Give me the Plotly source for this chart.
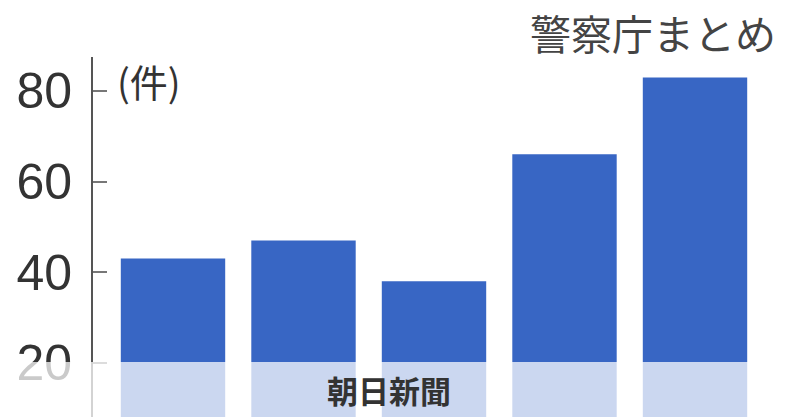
import plotly.graph_objects as go

categories = ["2019", "2020", "2021", "2022", "2023"]
values = [43, 47, 38, 66, 83]
tick_vals = [20, 40, 60, 80]
tick_text = ["20", "40", "60", "80"]
source_text = "警察庁まとめ"
unit_text = "(件)"
watermark_text = "朝日新聞"

W, H = 800, 417
OFF = 8  # page body margin offset
L, T, R = 93 - OFF, 57 - OFF, 33
PW = W - L - R
PH = H - T

def px(sx):
    return (sx - OFF - L) / PW

def py(sy):
    return (H - (sy - OFF)) / PH

fig = go.Figure()
fig.add_trace(go.Bar(
    x=categories, y=values,
    marker=dict(color="#3866c4", line=dict(width=0)),
    width=0.8,
))

fig.update_layout(
    width=W, height=H,
    margin=dict(l=L, r=R, t=T, b=0, autoexpand=False),
    paper_bgcolor="white", plot_bgcolor="white",
    showlegend=False,
    xaxis=dict(range=[-0.613, 4.613], showticklabels=False, showgrid=False,
               zeroline=False, showline=False, ticks="", automargin=False),
    yaxis=dict(range=[87.5 - PH / 4.528, 87.5], tickvals=tick_vals, ticktext=tick_text,
               showgrid=False, zeroline=False, showline=True, automargin=False,
               linecolor="#555555", linewidth=2,
               ticks="inside", ticklen=14, tickcolor="#777777", tickwidth=1.5,
               ticklabelstandoff=9,
               tickfont=dict(family="Liberation Sans, Arial",
                             size=50, color="#333333")),
    font=dict(family="Noto Sans CJK JP, Noto Sans, sans-serif"),
)

# semi-transparent white overlay over the lower part
fig.add_shape(type="rect", xref="paper", yref="paper",
              x0=-0.2, x1=1.2, y0=-0.01, y1=py(362),
              fillcolor="rgba(255,255,255,0.74)", line=dict(width=0), layer="above")

fig.add_annotation(text=source_text, xref="paper", yref="paper",
                   x=px(777), y=py(32), borderpad=0,
                   xanchor="right", yanchor="middle", showarrow=False,
                   font=dict(size=41, color="#444444",
                             family="Noto Sans CJK JP"))
fig.add_annotation(text=unit_text, xref="paper", yref="paper",
                   x=px(115), y=py(80),
                   xanchor="left", yanchor="middle", showarrow=False,
                   font=dict(size=38, color="#333333",
                             family="Noto Sans CJK JP"))
fig.add_annotation(text="<b>" + watermark_text + "</b>", xref="paper", yref="paper",
                   x=px(389), y=py(389),
                   xanchor="center", yanchor="middle", showarrow=False,
                   font=dict(size=31, color="#333333",
                             family="Noto Sans CJK JP"))

fig.write_html("out.html")
